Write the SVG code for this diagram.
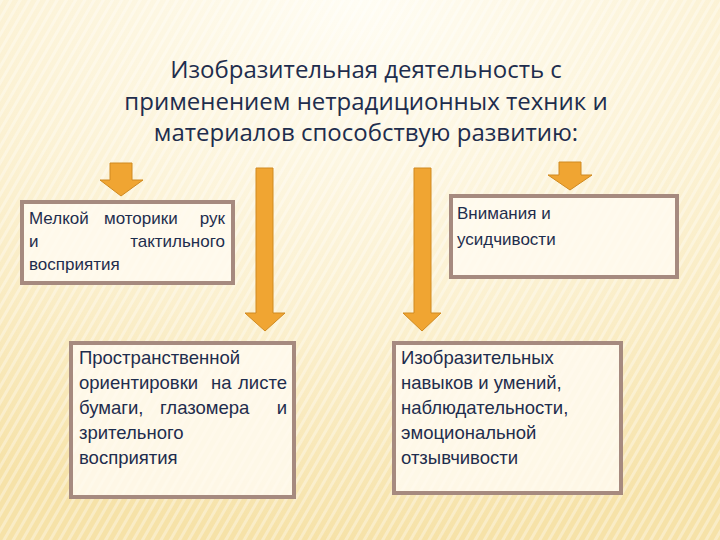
<svg xmlns="http://www.w3.org/2000/svg" width="720" height="540" viewBox="0 0 720 540">
<defs>
<radialGradient id="bg" cx="0.5" cy="0" r="1">
<stop offset="0" stop-color="#fffdf4"/><stop offset="0.6" stop-color="#fbf0cf"/><stop offset="1" stop-color="#f6e2a8"/>
</radialGradient>
<pattern id="rays" width="8" height="8" patternUnits="userSpaceOnUse" patternTransform="rotate(30)">
<rect width="3" height="8" fill="#ffffff" opacity="0.35"/>
</pattern>
</defs>
<style>
.box{fill:#fffaf0;fill-opacity:0.85;stroke:#a68a7f;stroke-width:4}
.arr{fill:#f0a532;stroke:#d08a20;stroke-width:1}
.t{font-family:"Liberation Sans",Arial,sans-serif;font-size:17px;fill:#1e2d4d}
.b{font-size:18.5px}
.e{text-anchor:end}
.title{font-family:"Open Sans","Liberation Sans",sans-serif;font-size:24px;fill:#1e2d4d;text-anchor:middle}
</style>
<rect width="720" height="540" fill="url(#bg)"/>
<rect width="720" height="540" fill="url(#rays)"/>
<g id="title">
<text class="title" x="366" y="78">Изобразительная деятельность с</text>
<text class="title" x="366" y="110">применением нетрадиционных техник и</text>
<text class="title" x="366" y="141">материалов способствую развитию:</text>
</g>
<g id="connectors">
<polygon class="arr" points="110,163 132,163 132,180 143,180 121,196 100,180 110,180"/>
<polygon class="arr" points="256,168 273,168 273,313 285,313 265,331 245,313 256,313"/>
<polygon class="arr" points="414,168 431,168 431,313 441,313 422,331 403,313 414,313"/>
<polygon class="arr" points="559,162 581,162 581,175 592,175 570,190 548,175 559,175"/>
</g>
<g id="n1">
<rect class="box" x="22" y="202" width="211" height="81"/>
<text class="t" x="29" y="224">Мелкой</text><text class="t" x="104" y="224">моторики</text><text class="t e" x="225" y="224">рук</text>
<text class="t" x="29" y="247">и</text><text class="t e" x="225" y="247">тактильного</text>
<text class="t" x="29" y="270">восприятия</text>
</g>
<g id="n2">
<rect class="box" x="451" y="196" width="226" height="81"/>
<text class="t" x="457" y="219">Внимания и</text>
<text class="t" x="457" y="245">усидчивости</text>
</g>
<g id="n3">
<rect class="box" x="71" y="343" width="223" height="154"/>
<text class="t b" x="79" y="364">Пространственной</text>
<text class="t b" x="79" y="389">ориентировки</text><text class="t b" x="211" y="389">на</text><text class="t b e" x="287" y="389">листе</text>
<text class="t b" x="79" y="414">бумаги,</text><text class="t b" x="160" y="414">глазомера</text><text class="t b e" x="287" y="414">и</text>
<text class="t b" x="79" y="439">зрительного</text>
<text class="t b" x="79" y="464">восприятия</text>
</g>
<g id="n4">
<rect class="box" x="394" y="343" width="227" height="150"/>
<text class="t b" x="401" y="364">Изобразительных</text>
<text class="t b" x="401" y="389">навыков и умений,</text>
<text class="t b" x="401" y="414">наблюдательности,</text>
<text class="t b" x="401" y="439">эмоциональной</text>
<text class="t b" x="401" y="464">отзывчивости</text>
</g>
</svg>
